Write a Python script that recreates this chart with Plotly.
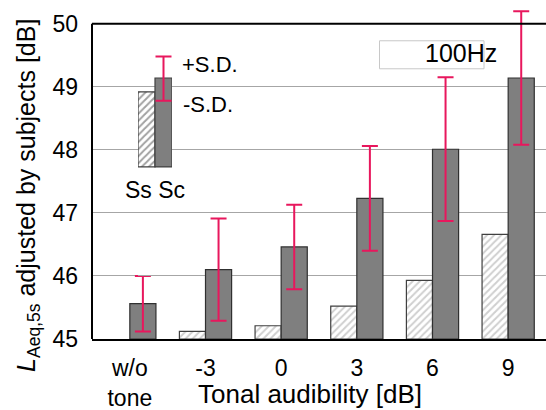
import plotly.graph_objects as go

categories = ["w/o<br>tone", "-3", "0", "3", "6", "9"]
ss_values = [None, 45.12, 45.21, 45.52, 45.93, 46.66]
sc_values = [45.56, 46.10, 46.46, 47.23, 48.01, 49.14]
sc_sd = [0.44, 0.81, 0.67, 0.83, 1.14, 1.06]
y_ticks = [45, 46, 47, 48, 49, 50]
y_floor = 45
y_top = 50

# legend inset glyph values (in dB units of the main axis)
legend_cats = [0, 1]
legend_base = 47.73
legend_heights = [48.92 - 47.73, 49.14 - 47.73]
legend_sd_plus = 0.34
legend_sd_minus = 0.36

FONT = "Liberation Sans, Arial, sans-serif"
PINK = "#E8175D"
W, H = 546, 410
# y range extended a little above 50 so the tallest error bar can poke out
Y_MAX = 50.25
L, B, R = 92, 71, 0
T = round((H - B) - (Y_MAX - 45) * 63, 2)


def px(xp):
    return (xp - L) / (W - L - R)


def py(yp):
    return (H - B - yp) / (H - B - T)


fig = go.Figure()

hatch = dict(shape="/", fgcolor="#A0A0A0", bgcolor="white", size=5, solidity=0.4)

fig.add_trace(go.Bar(
    x=categories, y=[None if v is None else v - y_floor for v in ss_values],
    base=y_floor, name="Ss",
    marker=dict(color="white", line=dict(color="#404040", width=1.2), pattern=hatch),
    showlegend=False,
))
fig.add_trace(go.Bar(
    x=categories, y=[v - y_floor for v in sc_values], base=y_floor, name="Sc",
    marker=dict(color="#7F7F7F", line=dict(color="#303030", width=1.2)),
    error_y=dict(type="data", array=sc_sd, color=PINK, thickness=2, width=8),
    showlegend=False,
))

# legend inset
fig.add_trace(go.Bar(
    x=legend_cats, y=legend_heights, base=legend_base, xaxis="x2", yaxis="y",
    width=1,
    marker=dict(color=["white", "#7F7F7F"], line=dict(color="#404040", width=1.2),
                pattern=dict(shape=["/", ""], fgcolor="#A0A0A0", bgcolor="white",
                             size=5, solidity=0.4)),
    showlegend=False,
))
fig.add_trace(go.Scatter(
    x=[1], y=[legend_base + legend_heights[1]], xaxis="x2", yaxis="y",
    mode="markers", marker=dict(size=1, color="rgba(0,0,0,0)"),
    error_y=dict(type="data", symmetric=False, array=[legend_sd_plus],
                 arrayminus=[legend_sd_minus], color=PINK, thickness=2, width=8),
    showlegend=False, hoverinfo="skip",
))

annotations = [
    dict(text="+S.D.", x=px(180), y=py(65), xref="paper", yref="paper",
         xanchor="left", yanchor="middle", showarrow=False,
         font=dict(size=22, family=FONT, color="black")),
    dict(text="-S.D.", x=px(181), y=py(105), xref="paper", yref="paper",
         xanchor="left", yanchor="middle", showarrow=False,
         font=dict(size=22, family=FONT, color="black")),
    dict(text="Ss Sc", x=px(155), y=py(190), xref="paper", yref="paper",
         xanchor="center", yanchor="middle", showarrow=False,
         font=dict(size=23, family=FONT, color="black")),
    dict(text="100Hz", x=px(499), y=py(53), xref="paper", yref="paper",
         xanchor="right", yanchor="middle", showarrow=False,
         font=dict(size=25, family=FONT, color="black")),
    # axis titles
    dict(text="Tonal audibility [dB]", x=px(310), y=py(394), xref="paper", yref="paper",
         xanchor="center", yanchor="middle", showarrow=False,
         font=dict(size=26, family=FONT, color="black")),
    dict(text="<i>L</i><sub>Aeq,5s</sub> adjusted by subjects [dB]",
         x=px(28), y=py(196), xref="paper", yref="paper", textangle=-90,
         xanchor="center", yanchor="middle", showarrow=False,
         font=dict(size=25, family=FONT, color="black")),
]

shapes = [
    dict(type="rect", xref="paper", yref="paper",
         x0=px(379.5), x1=px(484), y0=py(69), y1=py(41),
         line=dict(color="#C8C8C8", width=1), fillcolor="rgba(0,0,0,0)", layer="below"),
    # frame: top border at 50 dB and left axis line
    dict(type="line", xref="paper", yref="y", x0=0, x1=1, y0=y_top, y1=y_top,
         line=dict(color="black", width=2)),
    dict(type="line", xref="paper", yref="y", x0=0, x1=0, y0=y_floor, y1=y_top,
         line=dict(color="black", width=2)),
]

fig.update_layout(
    width=W, height=H,
    margin=dict(l=L, r=R, t=T, b=B),
    paper_bgcolor="white", plot_bgcolor="rgba(0,0,0,0)",
    barmode="group", bargap=0.31, bargroupgap=0,
    font=dict(family=FONT, size=23, color="black"),
    xaxis=dict(
        type="category", showline=True, linecolor="black", linewidth=2,
        mirror=False, showgrid=False, ticks="", ticklabelstandoff=7,
        tickfont=dict(size=23), automargin=False,
    ),
    xaxis2=dict(domain=[px(138), px(172)], range=[-0.5, 1.5], anchor="y",
                visible=False),
    yaxis=dict(
        range=[y_floor, Y_MAX], tickvals=y_ticks,
        showline=False, showgrid=True, gridcolor="#A6A6A6", gridwidth=1.2,
        ticks="", ticklabelstandoff=13, tickfont=dict(size=23),
        zeroline=False, automargin=False,
    ),
    annotations=annotations,
    shapes=shapes,
)

fig.write_html("out.html")
